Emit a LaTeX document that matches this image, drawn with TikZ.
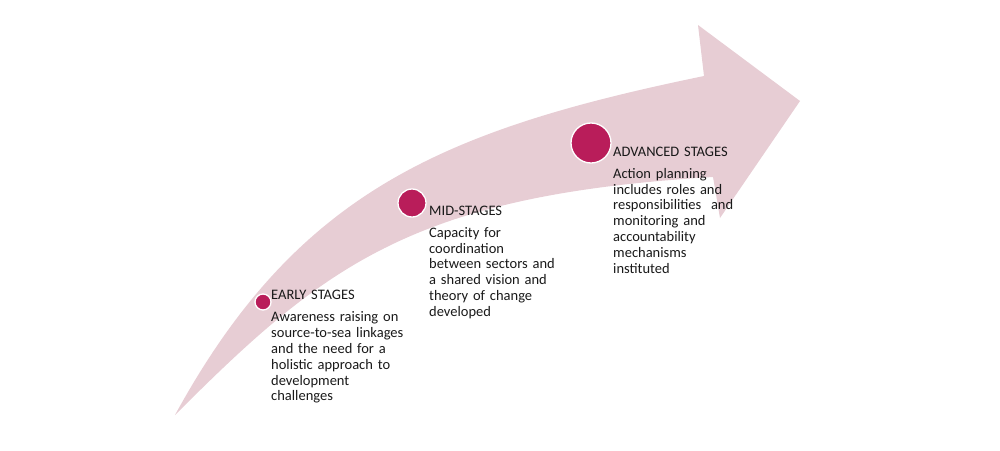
\documentclass[tikz,border=0pt]{standalone}
\usepackage{fontspec}
\setmainfont{Carlito}
\definecolor{arrowpink}{RGB}{231,205,212}
\definecolor{dotmag}{RGB}{185,29,90}
\definecolor{txt}{RGB}{25,25,25}
\begin{document}
\begin{tikzpicture}[x=1pt,y=-1pt,
  dot/.style={circle,fill=dotmag,draw=white,line width=1.3pt,inner sep=0pt},
  stagetext/.style={anchor=base west,inner sep=0pt,align=left,text=txt,
    text width=170pt,font=\fontsize{14.5}{15.8}\selectfont}]
\useasboundingbox (0,0) rectangle (1000,450);
% arrow
\coordinate (tip) at (175,415);
\coordinate (nu) at (704,76);
\coordinate (hu) at (698,25);
\coordinate (ht) at (800,101);
\coordinate (hl) at (720,218);
\coordinate (nl) at (713,177);
\fill[arrowpink] (tip) .. controls (297,192) and (442,130) .. (nu)
  -- (hu) -- (ht) -- (hl) -- (nl)
  .. controls (413,195) and (325,265) .. (tip) -- cycle;
% dots
\node[dot,minimum size=16pt] (d1) at (263,302) {};
\node[dot,minimum size=28pt] (d2) at (412,203) {};
\node[dot,minimum size=40pt] (d3) at (591,143) {};
% texts
\node[stagetext] (t1) at (271,299) {EARLY STAGES\\[7pt]
Awareness raising on\\source-to-sea linkages\\and the need for a\\holistic approach to\\development\\challenges};
\node[stagetext] (t2) at (429,215) {MID-STAGES\\[6.5pt]
Capacity for\\coordination\\between sectors and\\a shared vision and\\theory of change\\developed};
\node[stagetext] (t3) at (613,156) {ADVANCED STAGES\\[6.5pt]
Action planning\\includes roles and\\responsibilities\ \ and\\monitoring and\\accountability\\mechanisms\\instituted};
\end{tikzpicture}
\end{document}
